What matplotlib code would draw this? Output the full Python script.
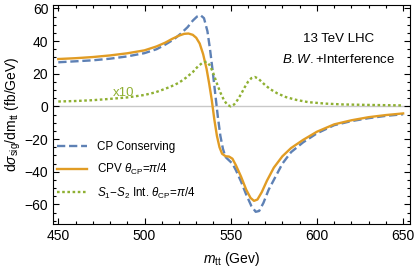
import matplotlib
matplotlib.use("Agg")
import matplotlib.pyplot as plt
from matplotlib.ticker import MultipleLocator

plt.rcParams["font.family"] = ["Liberation Sans", "DejaVu Sans"]
plt.rcParams["mathtext.fontset"] = "custom"
plt.rcParams["mathtext.rm"] = "Liberation Sans"
plt.rcParams["mathtext.it"] = "Liberation Sans:italic"

# CP conserving (blue dashed)
cp_x = [450, 460, 470, 480, 490, 500, 507, 512, 517, 521, 525, 528, 530.5, 532.5,
        534.5, 536.5, 538, 539.5, 541, 542.5, 544, 545.5, 547, 549, 551, 553, 556,
        559, 562, 564.5, 566.5, 569, 572, 576, 580, 585, 592, 600, 610, 620, 630,
        640, 650]
cp_y = [27, 27.6, 28.2, 29.2, 30.6, 32.6, 35, 37.8, 41, 44.5, 48.5, 52.5, 55, 55.8,
        54, 46, 35, 22, 8, -6, -18, -26, -31, -33, -35, -39, -46, -54, -61, -64.5,
        -64, -59, -51, -43, -35, -28, -22, -16.5, -11.5, -9, -7.2, -5.8, -4.8]

# CPV theta_CP = pi/4 (orange solid)
cpv_x = [450, 460, 470, 480, 490, 500, 507, 512, 516, 520, 523, 525.5, 528, 530,
         532, 534, 536, 537.5, 539, 540.5, 542, 543.5, 545, 547, 549, 551, 553, 556,
         559, 561.5, 563.5, 565.5, 568, 571, 575, 580, 585, 592, 600, 610, 620, 630,
         640, 650]
cpv_y = [29, 29.5, 30.2, 31.2, 32.5, 34.3, 36.7, 39, 41.3, 43.3, 44.4, 44.6, 43.8,
         42, 38.5, 32, 23, 14, 4, -8, -18, -25, -29, -30.5, -30.7, -32, -36, -43,
         -51, -56, -57.8, -57, -52.5, -45.5, -37.5, -30.5, -25.5, -20.5, -15.5, -11,
         -8.5, -6.6, -5.3, -4.3]

# S1-S2 interference x10 (green dotted)
int_x = [450, 460, 470, 480, 490, 500, 506, 510, 515, 520, 524, 528, 531, 534, 536,
         538, 540, 542, 544, 546, 548, 550, 552, 554, 556, 558, 560, 562, 564, 566,
         568, 570, 573, 577, 582, 588, 595, 605, 615, 630, 650]
int_y = [3, 3.3, 3.8, 4.6, 5.5, 7, 8.5, 10, 12, 14.5, 17.5, 21, 24.5, 27, 27.3, 25,
         20, 14, 8.5, 4, 1, 0, 1.2, 4, 7.5, 11.5, 15, 17.3, 18, 17, 15, 13, 10.5, 8,
         5.7, 4, 2.6, 1.7, 1.2, 0.9, 0.6]

BLUE = "#5E81B5"
ORANGE = "#E19C24"
GREEN = "#8FB032"

fig = plt.figure(figsize=(4.15, 2.68), dpi=100)
ax = fig.add_axes([0.128, 0.164, 0.86, 0.817])

ax.axhline(0, color="#c8c8c8", lw=1.0, zorder=1)
ax.plot(cp_x, cp_y, color=BLUE, lw=1.7, dashes=(3.5, 1.6),
        label="CP Conserving", zorder=3)
ax.plot(cpv_x, cpv_y, color=ORANGE, lw=1.7,
        label=r"CPV $\theta_{\rm CP}$=$\pi$/4", zorder=4)
ax.plot(int_x, int_y, color=GREEN, lw=1.7, dashes=(1.1, 1.1),
        label=r"$S_1$$-$$S_2$ Int. $\theta_{\rm CP}$=$\pi$/4", zorder=5)

ax.set_xlim(447, 654)
ax.set_ylim(-72, 62)
ax.xaxis.set_major_locator(MultipleLocator(50))
ax.xaxis.set_minor_locator(MultipleLocator(10))
ax.yaxis.set_major_locator(MultipleLocator(20))
ax.yaxis.set_minor_locator(MultipleLocator(5))
ax.tick_params(which="both", direction="in", top=True, right=True,
               labelsize=10, width=0.8)
ax.tick_params(which="major", length=4)
ax.tick_params(which="minor", length=2)
for s in ax.spines.values():
    s.set_linewidth(0.8)

ax.set_xlabel(r"$m_{\rm tt}$ (Gev)", fontsize=10, labelpad=5)
ax.set_ylabel(r"d$\sigma_{\rm sig}$/dm$_{\rm tt}$ (fb/GeV)", fontsize=10, labelpad=1)

ax.text(0.80, 0.845, "13 TeV LHC", transform=ax.transAxes, ha="center",
        va="center", fontsize=9.5)
ax.text(0.80, 0.75, r"$B.W.$+Interference", transform=ax.transAxes, ha="center",
        va="center", fontsize=9.5)
ax.text(488, 8.5, "x10", color=GREEN, fontsize=9.5, ha="center", va="center")

ax.legend(loc="lower left", bbox_to_anchor=(-0.01, 0.075), frameon=False,
          fontsize=8.4, handlelength=2.6, handletextpad=0.9, labelspacing=0.75,
          borderaxespad=0.2)

fig.savefig("out.png", dpi=100)
